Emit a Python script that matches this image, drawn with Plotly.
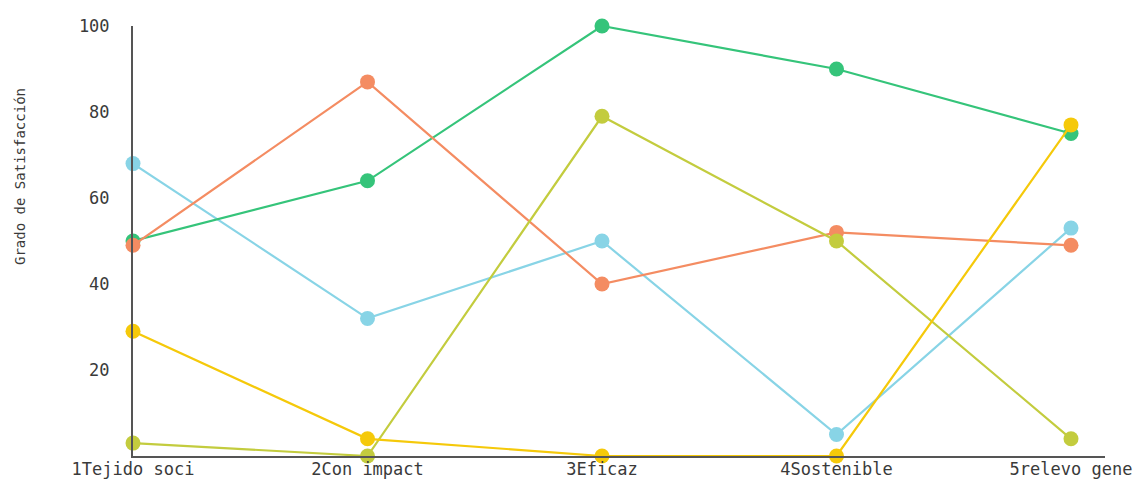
import plotly.graph_objects as go

categories = ["1Tejido soci", "2Con impact", "3Eficaz", "4Sostenible", "5relevo gene"]

serie_azul = [68, 32, 50, 5, 53]
serie_verde = [50, 64, 100, 90, 75]
serie_naranja = [49, 87, 40, 52, 49]
serie_oliva = [3, 0, 79, 50, 4]
serie_amarilla = [29, 4, 0, 0, 77]

y_ticks = [20, 40, 60, 80, 100]

series = [
    (serie_azul, "#88d4e6"),
    (serie_verde, "#35c47a"),
    (serie_naranja, "#f48c62"),
    (serie_oliva, "#c3cc3e"),
    (serie_amarilla, "#f5c90a"),
]

x_idx = list(range(len(categories)))
mono = "DejaVu Sans Mono"

fig = go.Figure()
for values, color in series:
    fig.add_trace(go.Scatter(
        x=x_idx, y=values, mode="lines+markers",
        line=dict(color=color, width=2.2),
        marker=dict(color=color, size=15),
        cliponaxis=False, showlegend=False,
    ))

fig.update_layout(
    width=1141, height=494,
    margin=dict(l=133, r=36, t=26, b=38),
    paper_bgcolor="white", plot_bgcolor="white",
    font=dict(family=mono, color="#3a3a3a"),
)
fig.update_xaxes(
    range=[0, 4.145], tickmode="array", tickvals=x_idx, ticktext=categories,
    showgrid=False, zeroline=False, showline=True, linecolor="#555555", linewidth=2,
    ticks="", tickfont=dict(family=mono, size=17, color="#3a3a3a"), ticklabelstandoff=-3,
    automargin=False,
)
fig.update_yaxes(
    range=[0, 100], tickmode="array", tickvals=y_ticks,
    showgrid=False, zeroline=False, showline=True, linecolor="#555555", linewidth=2,
    ticks="", tickfont=dict(family=mono, size=17, color="#3a3a3a"), ticklabelstandoff=18,
    automargin=False,
)

# Vertical axis title
fig.add_annotation(
    text="Grado de Satisfacción", textangle=-90,
    xref="paper", yref="paper", x=(20 - 133) / 972, y=(456 - 177) / 430,
    xanchor="center", yanchor="middle", showarrow=False,
    font=dict(family=mono, size=14, color="#3a3a3a"),
)

fig.write_html("out.html")
